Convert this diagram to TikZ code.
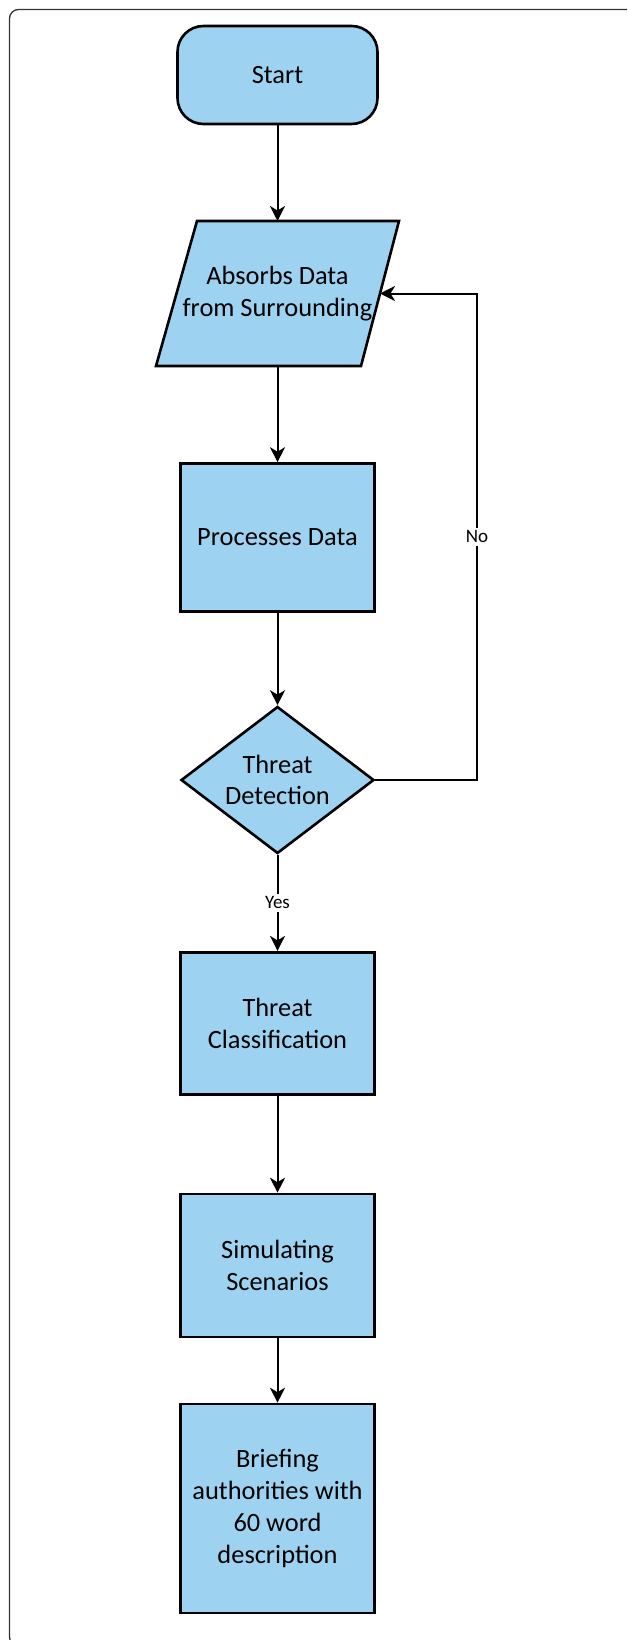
\documentclass[tikz,border=0pt]{standalone}
\usepackage{fontspec}
\setmainfont{Carlito}
\usetikzlibrary{arrows.meta,shapes.geometric}
\definecolor{boxblue}{RGB}{157,211,241}
\begin{document}
\begin{tikzpicture}[x=1pt,y=-1pt,
  txt/.style={align=center, font=\fontsize{26.4}{31.7}\selectfont},
  box/.style={txt, draw=black, fill=boxblue, line width=2.6pt, inner sep=0pt},
  proc/.style={box, rectangle, minimum width=194pt},
  conn/.style={line width=2pt, -{Stealth[length=15pt,width=15pt,inset=4.5pt]}},
  lbl/.style={fill=white, font=\fontsize{19}{23}\selectfont, inner sep=3pt}]
\useasboundingbox (0,0) rectangle (627,1640);
\begin{scope}
\clip (0,0) rectangle (627,1640);
\draw[line width=1.3pt, draw=black!80, rounded corners=9pt] (9.5,9.5) rectangle (690,1646);
\end{scope}
% nodes
\node[box, rounded corners=26pt, minimum width=200pt, minimum height=98pt] (start) at (277.5,75) {Start};
\draw[line width=2.6pt, fill=boxblue] (197,221) -- (399,221) -- (361,366) -- (156,366) -- cycle;
\node[txt, minimum width=205pt, minimum height=145pt, inner sep=0pt, outer sep=0pt] (absorb) at (277.5,293.5) {Absorbs Data\\from Surrounding};
\node[proc, minimum height=148pt] (proc1) at (277.5,537.5) {Processes Data};
\node[draw=black, fill=boxblue, line width=2.6pt, diamond, minimum width=193pt, minimum height=147pt, inner sep=0pt] (detect) at (277.5,780) {};
\node[txt] (detectlbl) at (detect) {Threat\\Detection};
\node[proc, minimum height=142pt] (classify) at (277.5,1023.2) {Threat\\Classification};
\node[proc, minimum height=143pt] (simulate) at (277.5,1265.5) {Simulating\\Scenarios};
\node[proc, minimum height=209pt] (brief) at (277.5,1508.5) {Briefing\\authorities with\\60 word\\description};
\coordinate (fbk) at (477,780);
% connectors
\draw[conn] (start.south) -- (absorb.north);
\draw[conn] (absorb.south) -- (proc1.north);
\draw[conn] (proc1.south) -- (detect.north);
\draw[conn] (detect.south) -- node[lbl] {Yes} (classify.north);
\draw[conn] (classify.south) -- (simulate.north);
\draw[conn] (simulate.south) -- (brief.north);
\draw[conn] (detect.east) -- (fbk) |- node[lbl, pos=0.25] {No} (absorb.east);
\end{tikzpicture}
\end{document}
